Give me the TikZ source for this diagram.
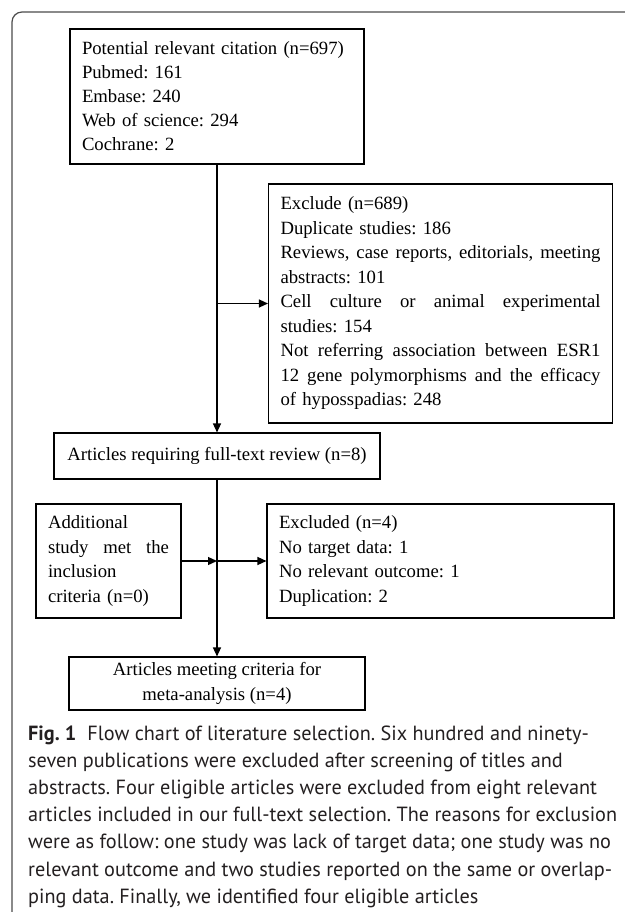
\documentclass[tikz,border=0pt]{standalone}
\usepackage{fontspec}
\usepackage{graphicx}
\usetikzlibrary{arrows.meta,calc}
\newfontfamily\boxfont{Liberation Serif}
\newfontfamily\capfont{PT Sans}
\newlength\capnatw
\newcommand\jl[2]{{\spaceskip=0pt\xspaceskip=0pt\makebox[#1][s]{#2}}}
\definecolor{capcol}{HTML}{231F20}
\begin{document}
\frenchspacing
\begin{tikzpicture}[x=1pt,y=-1pt,
  box/.style={draw=black, line width=1.1pt, inner sep=0pt, inner xsep=12pt,
    align=left, font=\boxfont\fontsize{18.7}{24.5}\selectfont},
  conn/.style={line width=1.3pt, -{Triangle[length=9pt,width=8pt]}}]
\useasboundingbox (0,0) rectangle (624,912);
\draw[draw=black!70, line width=1.2pt, rounded corners=10pt] (12,930) -- (12,12) -- (640,12);

\node[box, font=\boxfont\fontsize{18.7}{24}\selectfont, text width=270pt, minimum height=135pt] (src) at (217,96.5)
  {Potential relevant citation (n=697)\\ Pubmed: 161\\ Embase: 240\\ Web of science: 294\\ Cochrane: 2};

\node[box, text width=320pt, minimum height=239pt] (ex1) at (440.5,303.5)
  {Exclude (n=689)\\
   Duplicate studies: 186\\
   \jl{320pt}{Reviews, case reports, editorials, meeting}\\
   abstracts: 101\\
   \jl{320pt}{Cell culture or animal experimental}\\
   studies: 154\\
   \jl{320pt}{Not referring association between ESR1}\\
   \jl{320pt}{12 gene polymorphisms and the efficacy}\\
   of hyposspadias: 248};

\node[box, align=center, inner xsep=0pt, minimum width=326pt, minimum height=46pt] (req) at (217,456)
  {Articles requiring full-text review (n=8)};

\node[box, text width=121pt, minimum height=114pt] (add) at (108.5,561)
  {Additional\\ \jl{121pt}{study met the}\\ inclusion\\ criteria (n=0)};

\node[box, text width=323pt, minimum height=114pt] (ex2) at (440.5,561)
  {Excluded (n=4)\\ No target data: 1\\ No relevant outcome: 1\\ Duplication: 2};

\node[box, align=center, inner xsep=0pt, minimum width=296pt, minimum height=53pt] (meet) at (217,683.5)
  {Articles meeting criteria for\\ meta-analysis (n=4)};

\draw[conn] (src.south) -- (src.south |- req.north);
\coordinate (j1) at (src.south |- ex1.west);
\draw[conn] (j1) -- (ex1.west);
\draw[conn] (req.south) -- (req.south |- meet.north);
\coordinate (j2) at (req.south |- ex2.west);
\draw[conn] (add.east) -- (j2);
\draw[conn] (j2) -- (ex2.west);

\node[anchor=base west, inner sep=0pt, text=capcol, font=\capfont\fontsize{20.5}{27.2}\selectfont] (cap) at (28,740)
  {\settowidth{\capnatw}{relevant outcome and two studies reported on the same or overlap-}%
   \pgfmathsetmacro\capk{584/\capnatw}%
   \scalebox{\capk}[1]{\begin{tabular}[t]{@{}l@{}}
   \textbf{Fig. 1}\hspace{0.55em}Flow chart of literature selection. Six hundred and ninety-\\
   seven publications were excluded after screening of titles and\\
   abstracts. Four eligible articles were excluded from eight relevant\\
   articles included in our full-text selection. The reasons for exclusion\\
   were as follow: one study was lack of target data; one study was no\\
   relevant outcome and two studies reported on the same or overlap-\\
   ping data. Finally, we identified four eligible articles
  \end{tabular}}};
\end{tikzpicture}
\end{document}
